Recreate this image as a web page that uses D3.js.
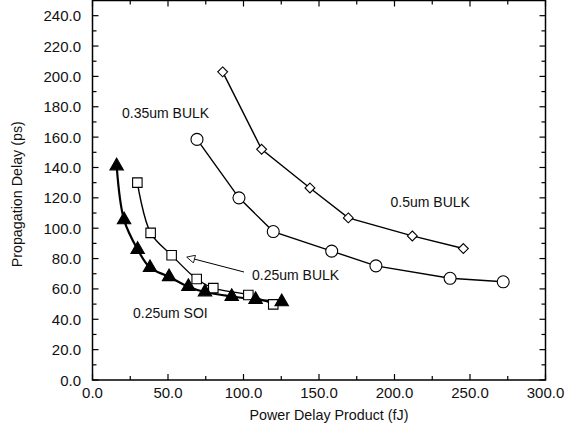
<!DOCTYPE html>
<html>
<head>
<meta charset="utf-8">
<script src="https://cdn.jsdelivr.net/npm/d3@7/dist/d3.min.js"></script>
<style>
  html, body { margin: 0; padding: 0; background: #fff; }
  svg { display: block; font-family: "Liberation Sans", Arial, sans-serif; }
</style>
</head>
<body>
<svg id="chart" width="566" height="431"></svg>
<script>
// Power delay product (fJ) vs propagation delay (ps) per technology
const bulk05X = [86.2, 112.0, 144.0, 169.4, 211.8, 245.6];
const bulk05Y = [203.0, 152.0, 126.5, 106.8, 94.9, 86.6];

const bulk035X = [69.2, 97.0, 119.7, 158.4, 187.7, 236.8, 272.0];
const bulk035Y = [158.5, 120.0, 97.8, 84.9, 75.2, 67.0, 64.7];

const bulk025X = [29.7, 38.5, 52.4, 69.0, 80.0, 103.2, 119.7];
const bulk025Y = [130.0, 96.9, 82.2, 66.5, 60.5, 56.0, 49.8];

const soi025X = [16.0, 20.9, 29.9, 38.1, 50.7, 63.5, 74.5, 92.2, 108.0, 125.3];
const soi025Y = [141.0, 105.5, 86.0, 74.0, 68.0, 61.5, 58.0, 55.0, 53.0, 51.5];

const xTicks = [0, 50, 100, 150, 200, 250, 300];
const yTicks = [0, 20, 40, 60, 80, 100, 120, 140, 160, 180, 200, 220, 240];

const svg = d3.select("#chart");
const plotL = 92.5, plotR = 545.5, plotT = 0.5, plotB = 380;

const x = d3.scaleLinear().domain([0, 300]).range([plotL, plotR]);
const y = d3.scaleLinear().domain([0, 250]).range([plotB, plotT]);

// Frame
svg.append("rect")
  .attr("x", plotL).attr("y", plotT)
  .attr("width", plotR - plotL).attr("height", plotB - plotT)
  .attr("fill", "none").attr("stroke", "#000").attr("stroke-width", 1.5);

const xMinor = d3.range(25, 300, 50);
const yMinor = d3.range(10, 250, 20);

// Inward ticks on all four sides
const tickG = svg.append("g").attr("stroke", "#000").attr("stroke-width", 1.2);
xTicks.forEach(v => {
  tickG.append("line").attr("x1", x(v)).attr("x2", x(v)).attr("y1", plotB).attr("y2", plotB - 6);
  tickG.append("line").attr("x1", x(v)).attr("x2", x(v)).attr("y1", plotT).attr("y2", plotT + 6);
});
xMinor.forEach(v => {
  tickG.append("line").attr("x1", x(v)).attr("x2", x(v)).attr("y1", plotB).attr("y2", plotB - 4);
  tickG.append("line").attr("x1", x(v)).attr("x2", x(v)).attr("y1", plotT).attr("y2", plotT + 4);
});
yTicks.forEach(v => {
  tickG.append("line").attr("y1", y(v)).attr("y2", y(v)).attr("x1", plotL).attr("x2", plotL + 6);
  tickG.append("line").attr("y1", y(v)).attr("y2", y(v)).attr("x1", plotR).attr("x2", plotR - 6);
});
yMinor.forEach(v => {
  tickG.append("line").attr("y1", y(v)).attr("y2", y(v)).attr("x1", plotL).attr("x2", plotL + 4);
  tickG.append("line").attr("y1", y(v)).attr("y2", y(v)).attr("x1", plotR).attr("x2", plotR - 4);
});

// Tick labels
svg.append("g").selectAll("text").data(xTicks).join("text")
  .attr("x", d => x(d)).attr("y", 398)
  .attr("text-anchor", "middle").attr("font-size", 15).attr("fill", "#111")
  .text(d => d.toFixed(1));
svg.append("g").selectAll("text").data(yTicks).join("text")
  .attr("x", 81).attr("y", d => y(d) + 5.5)
  .attr("text-anchor", "end").attr("font-size", 15).attr("fill", "#111")
  .text(d => d.toFixed(1));

// Axis titles
svg.append("text").attr("x", 329).attr("y", 420)
  .attr("text-anchor", "middle").attr("font-size", 14.3).attr("fill", "#111")
  .text("Power Delay Product (fJ)");
svg.append("text")
  .attr("transform", `translate(22,${(plotT + plotB) / 2 + 4}) rotate(-90)`)
  .attr("text-anchor", "middle").attr("font-size", 14.3).attr("fill", "#111")
  .text("Propagation Delay (ps)");

function pts(xs, ys) { return xs.map((v, i) => [v, ys[i]]); }

const lineLinear = d3.line().x(d => x(d[0])).y(d => y(d[1]));
const lineSmooth = d3.line().x(d => x(d[0])).y(d => y(d[1])).curve(d3.curveCatmullRom.alpha(0.5));

const series = [
  { data: pts(bulk05X, bulk05Y), sym: d3.symbolDiamond2, size: 62, fill: "#fff", gen: lineLinear, w: 1.4 },
  { data: pts(bulk035X, bulk035Y), sym: d3.symbolCircle, size: 113, fill: "#fff", gen: lineLinear, w: 1.4 },
  { data: pts(bulk025X, bulk025Y), sym: d3.symbolSquare, size: 90, fill: "#fff", gen: lineSmooth, w: 1.4 },
  { data: pts(soi025X, soi025Y), sym: d3.symbolTriangle, size: 78, fill: "#000", gen: lineSmooth, w: 2.2 }
];

series.forEach(s => {
  svg.append("path").attr("d", s.gen(s.data))
    .attr("fill", "none").attr("stroke", "#000").attr("stroke-width", s.w);
});
series.forEach(s => {
  svg.append("g").selectAll("path").data(s.data).join("path")
    .attr("transform", d => `translate(${x(d[0])},${y(d[1])})`)
    .attr("d", d3.symbol().type(s.sym).size(s.size))
    .attr("fill", s.fill).attr("stroke", "#000").attr("stroke-width", 1.1);
});

// Series labels
const labels = [
  { t: "0.35um BULK", x: 122, y: 118 },
  { t: "0.5um BULK", x: 390.5, y: 206.5 },
  { t: "0.25um BULK", x: 252, y: 280 },
  { t: "0.25um SOI", x: 133, y: 317.5 }
];
svg.append("g").selectAll("text").data(labels).join("text")
  .attr("x", d => d.x).attr("y", d => d.y)
  .attr("font-size", 14).attr("fill", "#111")
  .text(d => d.t);

// Pointer from the 0.25um BULK label toward its curve
svg.append("defs").append("marker")
  .attr("id", "head").attr("viewBox", "0 0 10 10")
  .attr("refX", 9).attr("refY", 5)
  .attr("markerWidth", 10).attr("markerHeight", 8)
  .attr("markerUnits", "userSpaceOnUse")
  .attr("orient", "auto")
  .append("path").attr("d", "M0,0 L10,5 L0,10 Z")
  .attr("fill", "#fff").attr("stroke", "#000").attr("stroke-width", 1);
svg.append("line")
  .attr("x1", 244).attr("y1", 272).attr("x2", 187.5).attr("y2", 257.3)
  .attr("stroke", "#000").attr("stroke-width", 1)
  .attr("marker-end", "url(#head)");
</script>
</body>
</html>
